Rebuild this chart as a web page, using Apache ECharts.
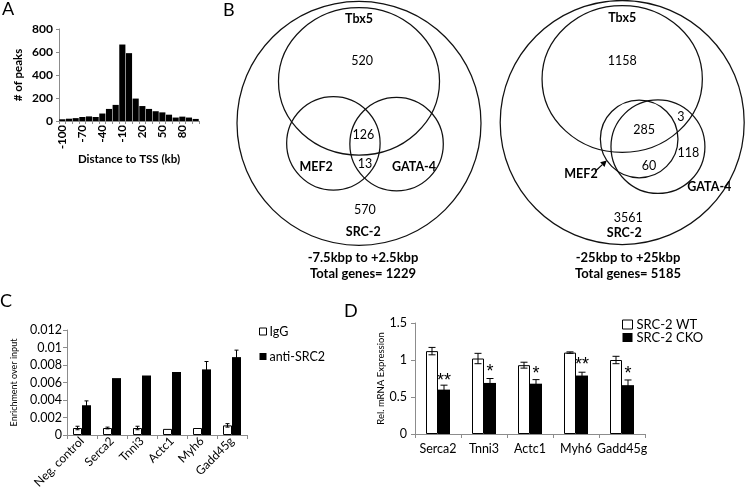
<!DOCTYPE html>
<html><head><meta charset="utf-8">
<script src="https://cdn.jsdelivr.net/npm/echarts@6/dist/echarts.min.js"></script>
<style>html,body{margin:0;padding:0;background:#fff}#c{width:745px;height:495px}</style>
</head><body><div id="c"></div>
<script>
// ---------- DATA ----------
// Panel A: histogram of peak distance to TSS
const distCats = ['-100','-90','-80','-70','-60','-50','-40','-30','-20','-10','0','10','20','30','40','50','60','70','80','90','100'];
const peakCounts = [15,20,25,35,40,35,65,105,140,665,590,195,130,105,85,75,55,30,38,30,18];
const peakTicks = [0,200,400,600,800];

// Panel B: Venn diagrams
const vennSets = ['SRC-2','Tbx5','MEF2','GATA-4'];
const vennLeftCounts = ['520','126','13','570'];
const vennRightCounts = ['1158','285','3','118','60','3561'];
const vennLeftCaption = ['-7.5kbp to +2.5kbp','Total genes= 1229'];
const vennRightCaption = ['-25kbp to +25kbp','Total genes= 5185'];

// Panel C: ChIP enrichment
const chipGenes = ['Neg. control','Serca2','Tnni3','Actc1','Myh6','Gadd45g'];
const iggVals = [0.0008,0.0008,0.0008,0.0007,0.0008,0.0011];
const iggErr = [0.0002,0.0001,0.0002,0,0,0.0002];
const srcVals = [0.0034,0.0065,0.0068,0.0072,0.0075,0.0089];
const srcErr = [0.0005,0,0,0,0.0009,0.0008];

// Panel D: relative mRNA expression
const exprGenes = ['Serca2','Tnni3','Actc1','Myh6','Gadd45g'];
const wtVals = [1.12,1.02,0.93,1.10,1.00];
const wtErr = [0.05,0.07,0.04,0.01,0.05];
const ckoVals = [0.60,0.69,0.68,0.79,0.66];
const ckoErr = [0.06,0.06,0.055,0.045,0.07];
const sigLabels = ['**','*','*','**','*'];
const sigY = [0.77,0.89,0.86,0.98,0.86];

// ---------- LAYOUT (geometry of the Venn drawings, in units of the outer circle radius) ----------
const vennLeftShapes = [[0,0,1,1],[0,0.344,0.66,0.604],[-0.21,-0.164,0.383,0.383],[0.308,-0.17,0.383,0.383]];
const vennLeftSetPos = [[0.035,-0.893],[0,0.852],[-0.352,-0.356],[0.451,-0.356]];
const vennLeftCountPos = [[0.025,0.51],[0.035,-0.095],[0.049,-0.336],[0.049,-0.711]];
const vennRightShapes = [[0,0,1,1],[0,0.357,0.657,0.602],[0.139,-0.135,0.318,0.318],[0.293,-0.198,0.385,0.383]];
const vennRightSetPos = [[0.017,-0.908],[0,0.854],[-0.338,-0.422],[0.714,-0.531]];
const vennRightCountPos = [[0,0.504],[0.179,-0.061],[0.48,0.048],[0.542,-0.252],[0.22,-0.357],[0.05,-0.785]];
const vennRightArrow = [[-0.223,-0.402],[-0.127,-0.312]];

// ---------- CHART ----------
const FONT = 'Lato, "Open Sans", sans-serif';
const AX = '#8c8c8c';
const chart = echarts.init(document.getElementById('c'));

function ts(size, weight){ return {fontFamily:FONT, fontSize:size, fontWeight:weight||'normal', color:'#000'}; }

function vennShapeSeries(gi, shapes){
  return {type:'custom', xAxisIndex:gi, yAxisIndex:gi, silent:true, clip:false,
    data:shapes, encode:{x:0,y:1},
    renderItem(params, api){
      const c = api.coord([api.value(0), api.value(1)]);
      const s = api.size([api.value(2), api.value(3)]);
      return {type:'ellipse', shape:{cx:c[0], cy:c[1], rx:s[0], ry:s[1]},
        style:{fill:'none', stroke:'#111', lineWidth:1.25}};
    }};
}
function vennTextSeries(gi, pos, texts, bolds){
  return {type:'custom', xAxisIndex:gi, yAxisIndex:gi, silent:true, clip:false, z:5,
    data:pos, encode:{x:0,y:1},
    renderItem(params, api){
      const p = api.coord([api.value(0), api.value(1)]);
      const i = params.dataIndex;
      return {type:'text', x:p[0], y:p[1], style:{text:texts[i], fill:'#000', fontSize:12.5,
        fontFamily:FONT, fontWeight:bolds[i]?'bold':'normal', align:'center', verticalAlign:'middle'}};
    }};
}
function arrowSeries(gi, pts){
  return {type:'custom', xAxisIndex:gi, yAxisIndex:gi, silent:true, clip:false,
    data:[[pts[0][0],pts[0][1],pts[1][0],pts[1][1]]], encode:{x:0,y:1},
    renderItem(params, api){
      const a = api.coord([api.value(0), api.value(1)]);
      const b = api.coord([api.value(2), api.value(3)]);
      const ang = Math.atan2(b[1]-a[1], b[0]-a[0]);
      const L = 6, W = 3.2;
      const bx = b[0]-L*Math.cos(ang), by = b[1]-L*Math.sin(ang);
      const nx = -Math.sin(ang), ny = Math.cos(ang);
      return {type:'group', children:[
        {type:'line', shape:{x1:a[0],y1:a[1],x2:bx,y2:by}, style:{stroke:'#000', lineWidth:1.2}},
        {type:'polygon', shape:{points:[[b[0],b[1]],[bx+nx*W,by+ny*W],[bx-nx*W,by-ny*W]]}, style:{fill:'#000'}}
      ]};
    }};
}
function errSeries(gi, vals, errs, dx, cap){
  return {type:'custom', xAxisIndex:gi, yAxisIndex:gi, silent:true, z:5,
    data:vals.map((v,i)=>[i,v,errs[i]]), encode:{x:0,y:1},
    renderItem(params, api){
      const i = api.value(0), v = api.value(1), e = api.value(2);
      if(!(e>0)) return null;
      const a = api.coord([i, v+e]), b = api.coord([i, v-e]);
      const x = a[0]+dx;
      const st = {stroke:'#000', lineWidth:1};
      return {type:'group', children:[
        {type:'line', shape:{x1:x,y1:a[1],x2:x,y2:b[1]}, style:st},
        {type:'line', shape:{x1:x-cap/2,y1:a[1],x2:x+cap/2,y2:a[1]}, style:st},
        {type:'line', shape:{x1:x-cap/2,y1:b[1],x2:x+cap/2,y2:b[1]}, style:st}
      ]};
    }};
}
function sigSeries(gi, ys, labels, dx){
  return {type:'custom', xAxisIndex:gi, yAxisIndex:gi, silent:true, z:6,
    data:ys.map((v,i)=>[i,v]), encode:{x:0,y:1},
    renderItem(params, api){
      const p = api.coord([api.value(0), api.value(1)]);
      return {type:'text', x:p[0]+dx, y:p[1]+4, style:{text:labels[params.dataIndex], fill:'#000',
        fontSize:18, fontFamily:'"Liberation Sans", Arial, sans-serif', align:'center', verticalAlign:'middle'}};
    }};
}

const hiddenAxis = (gi)=>({type:'value', gridIndex:gi, min:-1, max:1, show:false});
const lineAx = {show:true, lineStyle:{color:AX, width:1}};
const tickAx = (len)=>({show:true, length:len, lineStyle:{color:AX}});

const letter = (t, l, tp)=>({text:t, left:l, top:tp, padding:0, textStyle:{fontFamily:FONT, fontSize:18, fontWeight:'normal', color:'#000'}});

const option = {
  animation:false,
  backgroundColor:'#fff',
  title:[
    letter('A',2,0), letter('B',223,1), letter('C',0,292), letter('D',344,302),
    {text:vennLeftCaption.join('\n'), left:363, top:250, textAlign:'center', padding:0,
      textStyle:{fontFamily:FONT, fontSize:13, fontWeight:'bold', color:'#000', lineHeight:15.6}},
    {text:vennRightCaption.join('\n'), left:628, top:250, textAlign:'center', padding:0,
      textStyle:{fontFamily:FONT, fontSize:13, fontWeight:'bold', color:'#000', lineHeight:15.6}}
  ],
  legend:[
    {data:[{name:'IgG', itemStyle:{color:'#fff', borderColor:'#000', borderWidth:1}}, {name:'anti-SRC2', itemStyle:{color:'#000'}}],
      orient:'vertical', left:259, top:325, itemWidth:7, itemHeight:7, itemGap:12, padding:0,
      icon:'rect', textStyle:Object.assign(ts(12.5),{padding:[0,0,0,-2]}), selectedMode:false},
    {data:[{name:'SRC-2 WT', itemStyle:{color:'#fff', borderColor:'#000', borderWidth:1}}, {name:'SRC-2 CKO', itemStyle:{color:'#000'}}],
      orient:'vertical', left:622, top:318, itemWidth:10, itemHeight:9, itemGap:0, padding:0,
      icon:'rect', textStyle:Object.assign(ts(13),{padding:[0,0,0,-1]}), selectedMode:false}
  ],
  grid:[
    {left:59, top:29, width:140, height:92, outerBoundsMode:'none'},
    {left:237, top:1.3, width:244, height:244, outerBoundsMode:'none'},
    {left:500.2, top:0.5, width:244, height:244, outerBoundsMode:'none'},
    {left:67, top:330, width:180, height:105, outerBoundsMode:'none'},
    {left:415, top:323, width:230, height:111, outerBoundsMode:'none'}
  ],
  xAxis:[
    {type:'category', gridIndex:0, data:distCats, axisLine:lineAx, axisTick:Object.assign(tickAx(3),{interval:0}),
      axisLabel:Object.assign(ts(11.5,'bold'),{rotate:90, interval:2, margin:4}),
      name:'Distance to TSS (kb)', nameLocation:'middle', nameGap:29, nameTextStyle:ts(11.5,'bold')},
    hiddenAxis(1), hiddenAxis(2),
    {type:'category', gridIndex:3, data:chipGenes, axisLine:lineAx, axisTick:Object.assign(tickAx(4),{interval:0}),
      axisLabel:Object.assign(ts(12),{rotate:45, interval:0, margin:4})},
    {type:'category', gridIndex:4, data:exprGenes, axisLine:lineAx, axisTick:Object.assign(tickAx(4),{interval:0}),
      axisLabel:Object.assign(ts(12.5),{interval:0, margin:8})}
  ],
  yAxis:[
    {type:'value', gridIndex:0, min:peakTicks[0], max:peakTicks[peakTicks.length-1], interval:200,
      axisLine:lineAx, axisTick:tickAx(3), splitLine:{show:false}, axisLabel:Object.assign(ts(12,'bold'),{margin:6}),
      name:'# of peaks', nameLocation:'middle', nameGap:35, nameTextStyle:ts(11.5,'bold')},
    hiddenAxis(1), hiddenAxis(2),
    {type:'value', gridIndex:3, min:0, max:0.012, interval:0.002,
      axisLine:lineAx, axisTick:tickAx(4), splitLine:{show:false}, axisLabel:Object.assign(ts(12.5),{margin:5}),
      name:'Enrichment over input', nameLocation:'middle', nameGap:48, nameTextStyle:ts(9)},
    {type:'value', gridIndex:4, min:0, max:1.5, interval:0.5,
      axisLine:lineAx, axisTick:tickAx(4), splitLine:{show:false}, axisLabel:Object.assign(ts(12.5),{margin:8}),
      name:'Rel. mRNA Expression', nameLocation:'middle', nameGap:28, nameTextStyle:ts(9.5)}
  ],
  series:[
    {type:'bar', name:'peaks', xAxisIndex:0, yAxisIndex:0, data:peakCounts, barCategoryGap:'8%',
      itemStyle:{color:'#000'}, silent:true},
    vennShapeSeries(1, vennLeftShapes),
    vennTextSeries(1, vennLeftSetPos.concat(vennLeftCountPos), vennSets.concat(vennLeftCounts),
      vennSets.map(()=>true).concat(vennLeftCounts.map(()=>false))),
    vennShapeSeries(2, vennRightShapes),
    vennTextSeries(2, vennRightSetPos.concat(vennRightCountPos), vennSets.concat(vennRightCounts),
      vennSets.map(()=>true).concat(vennRightCounts.map(()=>false))),
    arrowSeries(2, vennRightArrow),
    {type:'bar', name:'IgG', xAxisIndex:3, yAxisIndex:3, data:iggVals, barWidth:9, barGap:'0%',
      itemStyle:{color:'#fff', borderColor:'#000', borderWidth:1}, silent:true},
    {type:'bar', name:'anti-SRC2', xAxisIndex:3, yAxisIndex:3, data:srcVals, barWidth:9, barGap:'0%',
      itemStyle:{color:'#000'}, silent:true},
    errSeries(3, iggVals, iggErr, -4.5, 4),
    errSeries(3, srcVals, srcErr, 4.5, 4),
    {type:'bar', name:'SRC-2 WT', xAxisIndex:4, yAxisIndex:4, data:wtVals, barWidth:12, barGap:'0%',
      itemStyle:{color:'#fff', borderColor:'#000', borderWidth:1}, silent:true},
    {type:'bar', name:'SRC-2 CKO', xAxisIndex:4, yAxisIndex:4, data:ckoVals, barWidth:12, barGap:'0%',
      itemStyle:{color:'#000'}, silent:true},
    errSeries(4, wtVals, wtErr, -6, 7),
    errSeries(4, ckoVals, ckoErr, 6, 7),
    sigSeries(4, sigY, sigLabels, 6)
  ]
};
chart.setOption(option);
</script></body></html>
